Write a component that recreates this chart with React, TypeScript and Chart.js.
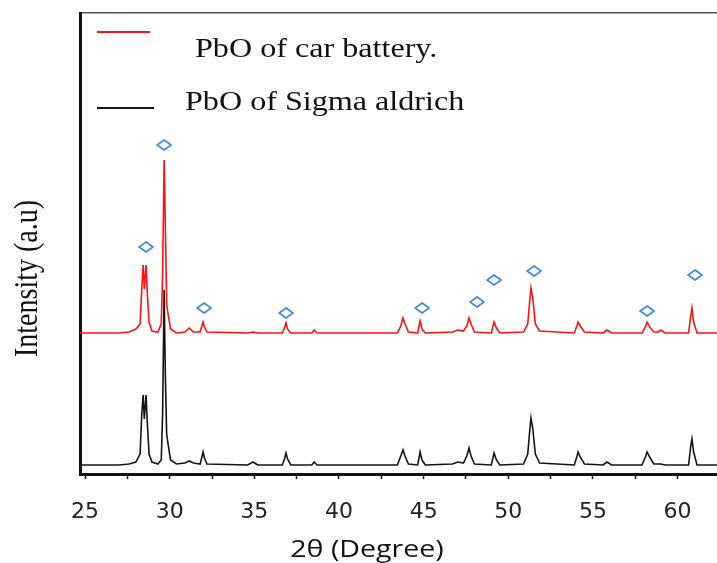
import { useEffect, useRef } from 'react';
import { Chart, registerables } from 'chart.js';
Chart.register(...registerables);

const twoTheta = [24.7, 27.0, 27.6, 28.0, 28.25, 28.35, 28.43, 28.5, 28.6, 28.68, 28.78, 28.95, 29.3, 29.5, 29.58, 29.67, 29.74, 29.82, 29.9, 30.05, 30.4, 30.9, 31.15, 31.4, 31.8, 31.9, 31.97, 32.05, 32.2, 34.6, 34.92, 35.2, 36.65, 36.78, 36.87, 36.96, 37.15, 38.4, 38.53, 38.7, 43.45, 43.65, 43.78, 43.9, 44.1, 44.65, 44.79, 44.9, 45.1, 46.7, 47.03, 47.35, 47.55, 47.68, 47.8, 48.0, 49.0, 49.16, 49.3, 49.5, 50.9, 51.15, 51.25, 51.34, 51.45, 51.6, 51.85, 53.9, 54.05, 54.12, 54.25, 54.5, 55.6, 55.83, 56.1, 57.9, 58.1, 58.2, 58.35, 58.6, 58.85, 59.02, 59.25, 60.65, 60.78, 60.85, 60.95, 61.15, 62.4];

const carBattery = [141, 141, 142, 145, 150, 185, 209, 185, 209, 180, 152, 143, 142, 150, 200, 314, 250, 170, 160, 145, 141, 142, 146, 142, 142, 148, 152, 147, 142, 141, 142, 141, 141, 146, 151, 145, 141, 141, 144, 141, 141, 148, 156, 150, 142, 141, 153, 145, 141, 142, 144, 143, 148, 156, 150, 142, 141, 152, 146, 141, 142, 150, 170, 186, 175, 150, 143, 141, 148, 152, 148, 142, 141, 144, 141, 141, 147, 152, 147, 142, 142, 144, 141, 141, 158, 166, 152, 141, 141];

const sigmaAldrich = [9, 9, 10, 12, 20, 60, 79, 55, 79, 50, 20, 12, 10, 14, 60, 184, 100, 40, 30, 14, 10, 11, 13, 11, 10, 17, 22, 16, 10, 9, 12, 9, 9, 15, 21, 15, 9, 9, 12, 9, 9, 18, 24, 18, 10, 9, 22, 14, 9, 10, 12, 11, 18, 26, 18, 10, 9, 21, 14, 9, 10, 20, 40, 56, 45, 20, 11, 9, 17, 22, 17, 10, 9, 12, 9, 9, 17, 22, 17, 10, 10, 10, 9, 9, 28, 35, 22, 9, 9];

const markerTheta = [28.6, 29.67, 32.03, 36.87, 44.91, 48.15, 49.16, 51.52, 58.2, 61.03];
const markerIntensity = [227, 329, 166, 161, 166, 172, 194, 203, 163, 199];

const xTickValues = [25, 27.5, 30, 32.5, 35, 37.5, 40, 42.5, 45, 47.5, 50, 52.5, 55, 57.5, 60];
const xLabelled = [25, 30, 35, 40, 45, 50, 55, 60];

const seriesLabels = ['PbO of car battery.', 'PbO of Sigma aldrich'];
const xTitle = '2θ (Degree)';
const yTitle = 'Intensity (a.u)';

function makeDiamond(): HTMLCanvasElement {
  const c = document.createElement('canvas');
  c.width = 16;
  c.height = 12;
  const g = c.getContext('2d')!;
  g.strokeStyle = '#3a86d2';
  g.lineWidth = 1.6;
  g.beginPath();
  g.moveTo(8, 1);
  g.lineTo(15, 6);
  g.lineTo(8, 11);
  g.lineTo(1, 6);
  g.closePath();
  g.stroke();
  return c;
}

const STRETCH = 1.19;

const zeroPad = (s: any) => {
  s.paddingLeft = 0;
  s.paddingRight = 0;
  s.paddingTop = 0;
  s.paddingBottom = 0;
};

const textPlugin = {
  id: 'customText',
  afterDraw(chart: any) {
    const { ctx, chartArea: a } = chart;
    const ds = chart.data.datasets;
    ctx.save();
    const entries = [
      { ds: ds[2], lineY: a.top + 19, x0: a.left + 17, x1: a.left + 70, tx: a.left + 115, ty: a.top + 44 },
      { ds: ds[1], lineY: a.top + 95, x0: a.left + 17, x1: a.left + 74, tx: a.left + 105, ty: a.top + 97 },
    ];
    for (const e of entries) {
      ctx.strokeStyle = e.ds.borderColor;
      ctx.lineWidth = 2;
      ctx.beginPath();
      ctx.moveTo(e.x0, e.lineY);
      ctx.lineTo(e.x1, e.lineY);
      ctx.stroke();
      ctx.save();
      ctx.translate(e.tx, e.ty);
      ctx.scale(STRETCH, 1);
      ctx.fillStyle = '#111';
      ctx.font = '27px "Liberation Serif"';
      ctx.textAlign = 'left';
      ctx.textBaseline = 'alphabetic';
      ctx.fillText(e.ds.label, 0, 0);
      ctx.restore();
    }
    ctx.save();
    ctx.translate(a.left - 43, (a.top + a.bottom) / 2 + 35);
    ctx.rotate(-Math.PI / 2);
    ctx.scale(1, STRETCH);
    ctx.fillStyle = '#111';
    ctx.font = '28px "Liberation Serif"';
    ctx.textAlign = 'center';
    ctx.textBaseline = 'alphabetic';
    ctx.fillText(yTitle, 0, 0);
    ctx.restore();
    ctx.save();
    ctx.translate(a.left + 287, a.bottom + 83);
    ctx.scale(STRETCH, 1);
    ctx.fillStyle = '#111';
    ctx.font = '24px "Open Sans"';
    ctx.textAlign = 'center';
    ctx.textBaseline = 'alphabetic';
    ctx.fillText(xTitle, 0, 0);
    ctx.restore();
    ctx.restore();
  },
};

export default function App() {
  const ref = useRef<HTMLCanvasElement>(null);
  useEffect(() => {
    const diamond = makeDiamond();
    const chart = new Chart(ref.current!, {
      type: 'line',
      data: {
        datasets: [
          {
            label: 'markers',
            data: markerTheta.map((x, i) => ({ x, y: markerIntensity[i] })),
            showLine: false,
            pointStyle: diamond as any,
            pointRadius: 6,
            order: 0,
          },
          {
            label: seriesLabels[1],
            data: twoTheta.map((x, i) => ({ x, y: sigmaAldrich[i] })),
            borderColor: '#141414',
            borderWidth: 1.6,
            pointRadius: 0,
            tension: 0,
            order: 1,
          },
          {
            label: seriesLabels[0],
            data: twoTheta.map((x, i) => ({ x, y: carBattery[i] })),
            borderColor: '#ff1010',
            borderWidth: 1.6,
            pointRadius: 0,
            tension: 0,
            order: 2,
          },
        ],
      },
      options: {
        animation: false,
        responsive: false,
        maintainAspectRatio: false,
        devicePixelRatio: 1,
        layout: { autoPadding: false, padding: { top: 13, left: 0, right: 0, bottom: 0 } },
        plugins: { legend: { display: false }, tooltip: { enabled: false } },
        scales: {
          x: {
            type: 'linear',
            position: 'bottom',
            min: 24.7,
            max: 62.33,
            afterBuildTicks: (s: any) => {
              s.ticks = xTickValues.map((v) => ({ value: v }));
            },
            afterFit: (s: any) => {
              s.height = 89;
              zeroPad(s);
            },
            ticks: {
              autoSkip: false,
              maxRotation: 0,
              padding: 20,
              color: '#222',
              font: { family: '"DejaVu Sans"', size: 22 },
              callback: (v: any) => (xLabelled.includes(Number(v)) ? String(v) : ''),
            },
            grid: { display: true, drawOnChartArea: false, drawTicks: true, tickLength: 5, color: '#111', tickWidth: 1.5 },
            border: { display: true, color: '#111', width: 3 },
          },
          xTop: {
            type: 'linear',
            position: 'top',
            min: 24.7,
            max: 62.33,
            afterFit: (s: any) => {
              s.height = 0;
              zeroPad(s);
            },
            ticks: { display: false },
            grid: { display: true, drawOnChartArea: false, drawTicks: false },
            border: { display: true, color: '#555', width: 1.5 },
          },
          y: {
            type: 'linear',
            min: 0,
            max: 461,
            afterFit: (s: any) => {
              s.width = 80;
              zeroPad(s);
            },
            ticks: { display: false },
            grid: { display: true, drawOnChartArea: false, drawTicks: false },
            border: { display: true, color: '#111', width: 3 },
          },
        },
      },
      plugins: [textPlugin],
    });
    return () => chart.destroy();
  }, []);
  return (
    <div style={{ position: 'fixed', left: 0, top: 0, width: 717, height: 563, background: '#fff', overflow: 'hidden' }}>
      <canvas ref={ref} width={717} height={563} style={{ display: 'block', width: 717, height: 563 }} />
    </div>
  );
}
